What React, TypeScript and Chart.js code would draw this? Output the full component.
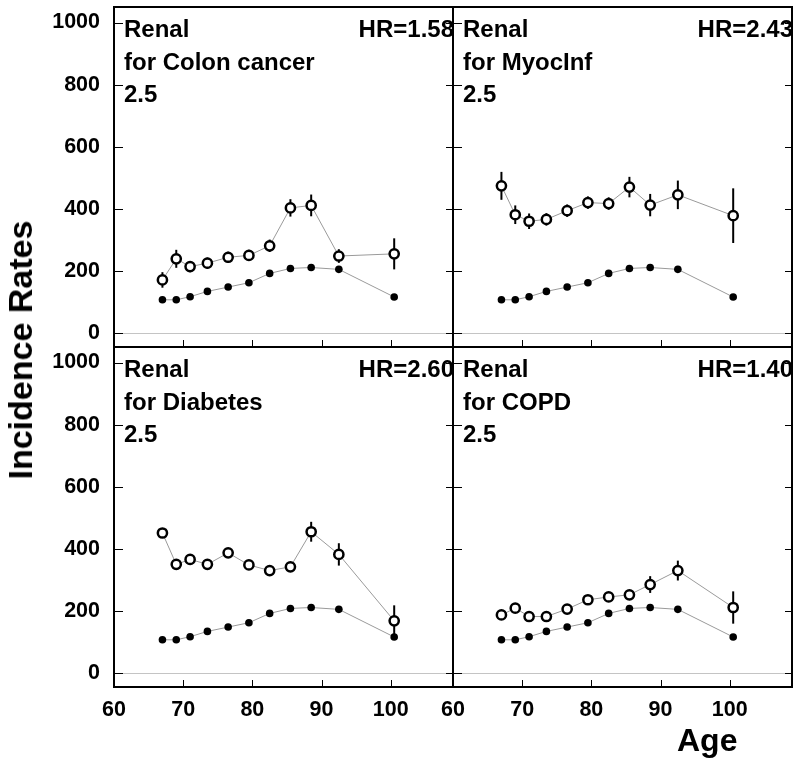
import React, { useEffect, useRef } from 'react';
import { Chart, registerables } from 'chart.js';

Chart.register(...registerables);

// ---------------- data ----------------
const ages = [67, 69, 71, 73.5, 76.5, 79.5, 82.5, 85.5, 88.5, 92.5, 100.5];
const baselineRates = [107, 107, 117, 134, 148, 162, 192, 208, 211, 205, 116];

const colonRates = [171, 239, 214, 225, 244, 250, 281, 403, 411, 248, 255];
const colonErr = [25, 29, 18, 18, 18, 18, 20, 28, 35, 22, 50];

const myocRates = [474, 381, 360, 366, 394, 420, 417, 470, 412, 445, 378];
const myocErr = [45, 30, 25, 20, 20, 20, 20, 33, 36, 46, 88];

const diabetesRates = [451, 350, 366, 350, 387, 348, 330, 342, 455, 382, 168];
const diabetesErr = [15, 15, 15, 15, 15, 15, 15, 15, 32, 36, 50];

const copdRates = [187, 209, 182, 182, 206, 236, 245, 252, 285, 330, 211];
const copdErr = [15, 15, 15, 15, 15, 15, 15, 15, 27, 32, 52];

const groupLabel = 'Renal';
const diseaseTitles = ['for Colon cancer', 'for MyocInf', 'for Diabetes', 'for COPD'];
const thresholdLabel = '2.5';
const hrValues = ['1.58', '2.43', '2.60', '1.40'];

const yTickLabels = [0, 200, 400, 600, 800, 1000];
const xTickLabels = [60, 70, 80, 90, 100];

const yAxisTitle = 'Incidence Rates';
const xAxisTitle = 'Age';

// ---------------- style ----------------
const FONT = '"Liberation Sans", Arial, Helvetica, sans-serif';

const panelPlugin = {
  id: 'panelDecor',
  beforeDatasetsDraw(chart: any, _args: any, opts: any) {
    const { ctx, chartArea: a, scales } = chart;
    const x = scales.x;
    const y = scales.y;
    ctx.save();
    // zero line
    const y0 = Math.round(y.getPixelForValue(0)) + 0.5;
    ctx.strokeStyle = '#c4c4c4';
    ctx.lineWidth = 1;
    ctx.beginPath();
    ctx.moveTo(a.left, y0);
    ctx.lineTo(a.right, y0);
    ctx.stroke();
    // error bars for open series
    const ds = chart.data.datasets[1];
    const errs: number[] = opts.errors || [];
    ctx.strokeStyle = '#000';
    ctx.lineWidth = 2;
    ds.data.forEach((p: any, i: number) => {
      const e = errs[i] || 0;
      const px = x.getPixelForValue(p.x);
      ctx.beginPath();
      ctx.moveTo(px, y.getPixelForValue(p.y + e));
      ctx.lineTo(px, y.getPixelForValue(p.y - e));
      ctx.stroke();
    });
    ctx.restore();
  },
  afterDatasetsDraw(chart: any, _args: any, opts: any) {
    const { ctx, chartArea: a, scales } = chart;
    const x = scales.x;
    const y = scales.y;
    ctx.save();
    ctx.strokeStyle = '#000';
    // ticks on y (left and right)
    ctx.lineWidth = 1;
    y.ticks.forEach((t: any) => {
      const v = t.value;
      if (v < 0 || v > 1000 || v % 50 !== 0) return;
      const major = v % 200 === 0;
      const py = Math.round(y.getPixelForValue(v)) + 0.5;
      const l = major ? 9 : 4.5;
      const r = major ? 7 : 4;
      ctx.beginPath();
      ctx.moveTo(a.left, py);
      ctx.lineTo(a.left + l, py);
      ctx.moveTo(a.right, py);
      ctx.lineTo(a.right - r, py);
      ctx.stroke();
    });
    // ticks on x (bottom)
    x.ticks.forEach((t: any) => {
      const v = t.value;
      if (v % 2 !== 0) return;
      const major = v % 10 === 0;
      const px = Math.round(x.getPixelForValue(v)) + 0.5;
      const l = major ? 7 : 3.5;
      ctx.beginPath();
      ctx.moveTo(px, a.bottom);
      ctx.lineTo(px, a.bottom - l);
      ctx.stroke();
    });
    // frame
    ctx.lineWidth = 2;
    ctx.strokeRect(a.left, a.top, a.right - a.left, a.bottom - a.top);
    // texts
    ctx.fillStyle = '#000';
    ctx.font = `bold 24px ${FONT}`;
    ctx.textBaseline = 'alphabetic';
    ctx.textAlign = 'left';
    ctx.fillText(opts.group, a.left + 10, a.top + 30);
    ctx.fillText(opts.title, a.left + 10, a.top + 63);
    ctx.fillText(opts.threshold, a.left + 10, a.top + 95);
    ctx.textAlign = 'right';
    ctx.fillText('HR=' + opts.hr, a.right + 1, a.top + 30);
    ctx.restore();
  },
};

type PanelCfg = {
  idx: number;
  rates: number[];
  errs: number[];
  showX: boolean;
  showY: boolean;
  pad: { left: number; right: number; top: number; bottom: number };
};

const panels: PanelCfg[] = [
  { idx: 0, rates: colonRates, errs: colonErr, showX: false, showY: true, pad: { left: 14, right: 347, top: 7, bottom: 421 } },
  { idx: 1, rates: myocRates, errs: myocErr, showX: false, showY: false, pad: { left: 453, right: 8, top: 7, bottom: 421 } },
  { idx: 2, rates: diabetesRates, errs: diabetesErr, showX: true, showY: true, pad: { left: 14, right: 347, top: 347, bottom: 21 } },
  { idx: 3, rates: copdRates, errs: copdErr, showX: true, showY: false, pad: { left: 453, right: 8, top: 347, bottom: 21 } },
];

function Panel({ cfg }: { cfg: PanelCfg }) {
  const ref = useRef<HTMLCanvasElement>(null);
  useEffect(() => {
    if (!ref.current) return;
    const tickFont = { family: FONT, size: 21.5, weight: 'bold' as const };
    const chart = new Chart(ref.current, {
      type: 'scatter',
      data: {
        datasets: [
          {
            label: 'baseline',
            data: ages.map((a, i) => ({ x: a, y: baselineRates[i] })),
            showLine: true,
            borderColor: '#9a9a9a',
            borderWidth: 1,
            pointRadius: 3.8,
            pointBackgroundColor: '#000',
            pointBorderColor: '#000',
            pointBorderWidth: 0,
            fill: false,
          },
          {
            label: 'comorbid',
            data: ages.map((a, i) => ({ x: a, y: cfg.rates[i] })),
            showLine: true,
            borderColor: '#9a9a9a',
            borderWidth: 1,
            pointRadius: 4.6,
            pointBackgroundColor: '#fff',
            pointBorderColor: '#000',
            pointBorderWidth: 2.5,
            fill: false,
          },
        ],
      },
      options: {
        responsive: false,
        animation: false,
        devicePixelRatio: 1,
        events: [],
        layout: { padding: cfg.pad, autoPadding: false },
        plugins: {
          legend: { display: false },
          tooltip: { enabled: false },
          title: { display: false },
          panelDecor: {
            errors: cfg.errs,
            group: groupLabel,
            title: diseaseTitles[cfg.idx],
            threshold: thresholdLabel,
            hr: hrValues[cfg.idx],
          },
        } as any,
        scales: {
          x: {
            type: 'linear',
            position: 'bottom',
            min: 60,
            max: 109,
            grid: { display: false, drawTicks: false },
            border: { display: false },
            ticks: {
              display: cfg.showX,
              stepSize: 2,
              includeBounds: false,
              autoSkip: false,
              maxRotation: 0,
              minRotation: 0,
              padding: 10,
              color: '#000',
              font: tickFont,
              callback: (v: any) => (xTickLabels.includes(Number(v)) ? String(v) : null),
            },
            afterFit: (s: any) => {
              s.height = cfg.showX ? 60 : 0;
              s.paddingLeft = 0;
              s.paddingRight = 0;
              s.paddingTop = 0;
              s.paddingBottom = 0;
            },
          },
          y: {
            type: 'linear',
            position: 'left',
            min: -45,
            max: 1050,
            grid: {
              display: true,
              drawOnChartArea: false,
              drawTicks: true,
              tickLength: 14,
              color: 'rgba(0,0,0,0)',
            },
            border: { display: false },
            ticks: {
              display: cfg.showY,
              stepSize: 50,
              includeBounds: false,
              autoSkip: false,
              padding: 0,
              color: '#000',
              font: tickFont,
              callback: (v: any) => (yTickLabels.includes(Number(v)) ? String(v) : null),
            },
            afterFit: (s: any) => {
              s.width = cfg.showY ? 100 : 0;
              s.paddingLeft = 0;
              s.paddingRight = 0;
              s.paddingTop = 0;
              s.paddingBottom = 0;
            },
          },
        },
      },
      plugins: [panelPlugin as any],
    });
    return () => chart.destroy();
  }, [cfg]);
  return (
    <canvas
      ref={ref}
      width={800}
      height={768}
      style={{ position: 'absolute', left: 0, top: 0, width: 800, height: 768 }}
    />
  );
}

export default function App() {
  return (
    <div style={{ position: 'absolute', left: 0, top: 0, width: 800, height: 768, background: '#fff', overflow: 'hidden' }}>
      {panels.map((p) => (
        <Panel key={p.idx} cfg={p} />
      ))}
      <div
        style={{
          position: 'absolute',
          left: 20,
          top: 350,
          transform: 'translate(-50%, -50%) rotate(-90deg)',
          whiteSpace: 'nowrap',
          fontFamily: FONT,
          fontWeight: 'bold',
          fontSize: 34,
          lineHeight: '34px',
          color: '#000',
        }}
      >
        {yAxisTitle}
      </div>
      <div
        style={{
          position: 'absolute',
          left: 677,
          top: 724,
          whiteSpace: 'nowrap',
          fontFamily: FONT,
          fontWeight: 'bold',
          fontSize: 32,
          lineHeight: '32px',
          color: '#000',
        }}
      >
        {xAxisTitle}
      </div>
    </div>
  );
}
